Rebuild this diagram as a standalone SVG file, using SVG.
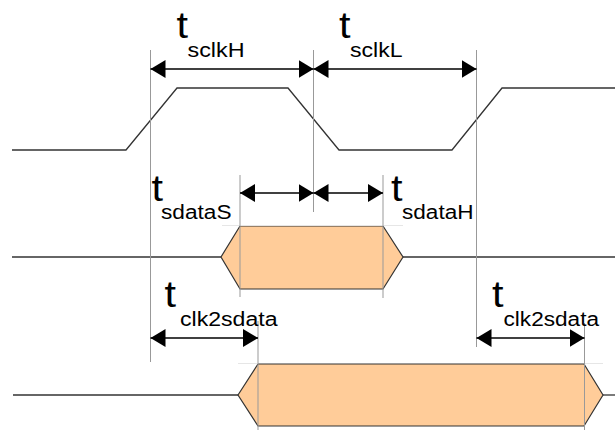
<svg xmlns="http://www.w3.org/2000/svg" width="615" height="430" viewBox="0 0 615 430">
<style>
.sig{fill:none;stroke:#333;stroke-width:1.3}
.box{fill:#FFCC99;stroke:#333;stroke-width:1.2}
.guide{fill:none;stroke:#999;stroke-width:1}
.faint{fill:none;stroke:#e6e6e6;stroke-width:1}
.dim{fill:none;stroke:#000;stroke-width:1.5}
</style>
<defs>
<marker id="ah" markerUnits="userSpaceOnUse" markerWidth="16" markerHeight="18" refX="15" refY="9" orient="auto-start-reverse" viewBox="0 0 16 18">
<path d="M0,0 L15,9 L0,18 Z" fill="#000"/>
</marker>
</defs>
<g id="signals">
<polyline id="clock" class="sig" points="12,150 126,150 177,88 288,88 339,150 452,150 502,88 615,88"/>
<g id="data1">
<line class="sig" x1="12" y1="257" x2="221" y2="257"/>
<line class="sig" x1="403" y1="257" x2="615" y2="257"/>
<polygon class="box" points="221,257 240,226 383,226 403,257 383,289 240,289"/>
</g>
<g id="data2">
<line class="sig" x1="13" y1="395" x2="238" y2="395"/>
<line class="sig" x1="603" y1="395" x2="615" y2="395"/>
<polygon class="box" points="238,395 258,364 584,364 603,395 584,426 258,426"/>
</g>
</g>
<g id="guides">
<line class="faint" x1="222" y1="225.5" x2="403" y2="225.5"/>
<line class="faint" x1="238" y1="363.5" x2="258" y2="363.5"/>
<line class="faint" x1="584" y1="363.5" x2="603" y2="363.5"/>
<line class="guide" x1="150.5" y1="50" x2="150.5" y2="362"/>
<line class="guide" x1="313.5" y1="50" x2="313.5" y2="212"/>
<line class="guide" x1="476.5" y1="50" x2="476.5" y2="347"/>
<line class="guide" x1="240" y1="175" x2="240" y2="297"/>
<line class="guide" x1="383" y1="175" x2="383" y2="298"/>
<line class="guide" x1="258" y1="321" x2="258" y2="430"/>
<line class="guide" x1="584.5" y1="323" x2="584.5" y2="430"/>
</g>
<g id="connectors">
<line class="dim" x1="150.5" y1="69" x2="313.5" y2="69" marker-start="url(#ah)" marker-end="url(#ah)"/>
<line class="dim" x1="313.5" y1="69" x2="476.5" y2="69" marker-start="url(#ah)" marker-end="url(#ah)"/>
<line class="dim" x1="240" y1="193" x2="313.5" y2="193" marker-start="url(#ah)" marker-end="url(#ah)"/>
<line class="dim" x1="313.5" y1="193" x2="383" y2="193" marker-start="url(#ah)" marker-end="url(#ah)"/>
<line class="dim" x1="150.5" y1="338" x2="258" y2="338" marker-start="url(#ah)" marker-end="url(#ah)"/>
<line class="dim" x1="476.5" y1="338" x2="584.5" y2="338" marker-start="url(#ah)" marker-end="url(#ah)"/>
</g>
<g font-family="'Liberation Sans', Arial, sans-serif" fill="#000">
<g id="label-tsclkH">
<text font-size="37" x="176.5" y="38" textLength="11.5" lengthAdjust="spacingAndGlyphs">t</text>
<text font-size="20" x="187.5" y="57" textLength="57" lengthAdjust="spacingAndGlyphs">sclkH</text>
</g>
<g id="label-tsclkL">
<text font-size="37" x="339" y="38" textLength="11.5" lengthAdjust="spacingAndGlyphs">t</text>
<text font-size="20" x="350" y="57" textLength="52.5" lengthAdjust="spacingAndGlyphs">sclkL</text>
</g>
<g id="label-tsdataS">
<text font-size="37" x="151.5" y="200.7" textLength="11.5" lengthAdjust="spacingAndGlyphs">t</text>
<text font-size="20" x="161" y="219.3" textLength="70.5" lengthAdjust="spacingAndGlyphs">sdataS</text>
</g>
<g id="label-tsdataH">
<text font-size="37" x="391" y="200.7" textLength="11.5" lengthAdjust="spacingAndGlyphs">t</text>
<text font-size="20" x="402" y="219.3" textLength="71.5" lengthAdjust="spacingAndGlyphs">sdataH</text>
</g>
<g id="label-tclk2sdata-1">
<text font-size="37" x="164.5" y="306.7" textLength="11.5" lengthAdjust="spacingAndGlyphs">t</text>
<text font-size="20" x="180" y="326" textLength="97.5" lengthAdjust="spacingAndGlyphs">clk2sdata</text>
</g>
<g id="label-tclk2sdata-2">
<text font-size="37" x="492" y="306.7" textLength="11.5" lengthAdjust="spacingAndGlyphs">t</text>
<text font-size="20" x="503.5" y="326" textLength="95.5" lengthAdjust="spacingAndGlyphs">clk2sdata</text>
</g>
</g>
</svg>
